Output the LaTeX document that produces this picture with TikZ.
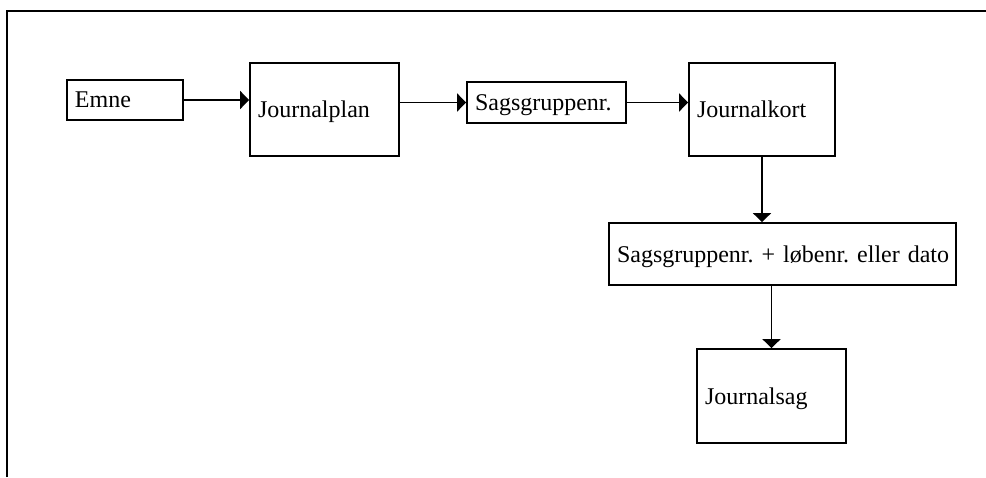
\documentclass[tikz,border=0pt]{standalone}
\usepackage{fontspec}
\setmainfont{Liberation Serif}
\usetikzlibrary{arrows.meta,positioning}
\tikzset{
  flow/.style={-{Triangle[length=4.5pt,width=9pt]},line width=0.9pt},
  card/.style args={#1,#2}{
  draw=black,
  line width=0.9pt,
  inner xsep=4pt,
  minimum width=#1 pt,
  minimum height=#2 pt,
  text width=#1 pt-8pt,
  text depth=0pt,
  align=left,
  font=\fontsize{12}{14}\selectfont\frenchspacing
  }
}
\begin{document}
\begin{tikzpicture}[x=0.5pt,y=-0.5pt]
  \useasboundingbox (0,0) rectangle (986,477);
  \draw[line width=1.1pt] (7,477) -- (7,11) -- (986,11);

  \node [card={58,20}] (emne) at (125,100) {Emne};
  \node [card={74.5,46.5}] (plan) at (324.5,109.5) {Journalplan};
  \node [card={79.5,20.5}] (gruppe) at (546.5,102.5) {Sagsgruppenr.};
  \node [card={73,46.5}] (kort) at (762,109.5) {Journalkort};
  \node [card={173.5,31}] (loebenr) at (782.5,254) {Sagsgruppenr.~+~løbenr.~eller~dato};
  \node [card={74.5,47}] (sag) at (771.5,396) {Journalsag};

  \draw [flow] (emne.east) -- (emne.east -| plan.west);
  \draw [flow] (gruppe.west -| plan.east) -- (gruppe.west);
  \draw [flow] (gruppe.east) -- (gruppe.east -| kort.west);
  \draw [flow] (kort.south) -- (kort.south |- loebenr.north);
  \draw [flow] (sag.north |- loebenr.south) -- (sag.north);
\end{tikzpicture}
\end{document}
